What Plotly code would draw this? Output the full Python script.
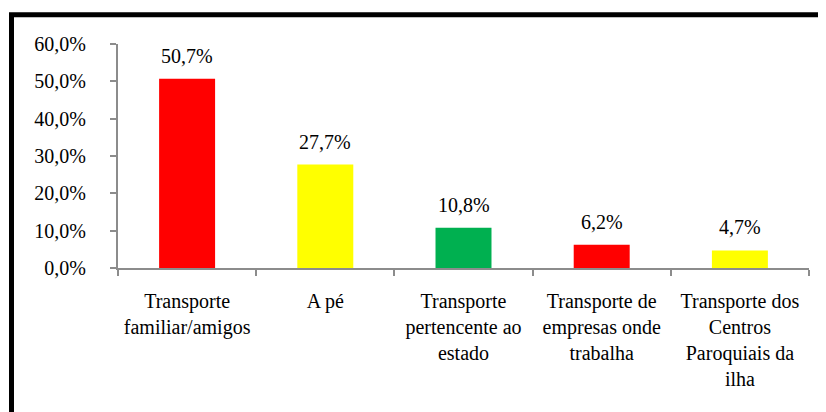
import plotly.graph_objects as go

categories = ["Transporte<br>familiar/amigos", "A pé", "Transporte<br>pertencente ao<br>estado",
              "Transporte de<br>empresas onde<br>trabalha", "Transporte dos<br>Centros<br>Paroquiais da<br>ilha"]
values = [50.7, 27.7, 10.8, 6.2, 4.7]
labels = ["50,7%", "27,7%", "10,8%", "6,2%", "4,7%"]
colors = ["#FF0000", "#FFFF00", "#00B050", "#FF0000", "#FFFF00"]
y_ticks = [0, 10, 20, 30, 40, 50, 60]
y_ticktext = ["0,0%", "10,0%", "20,0%", "30,0%", "40,0%", "50,0%", "60,0%"]

FONT = "'Liberation Serif', Tinos, 'Times New Roman', 'DejaVu Serif', serif"
AXC = "#8C8C8C"

fig = go.Figure(go.Bar(x=categories, y=values, marker=dict(color=colors, line=dict(width=0)),
                       width=0.405, hoverinfo="skip"))

for c, v, t in zip(categories, values, labels):
    fig.add_annotation(x=c, y=v, text=t, showarrow=False, yanchor="bottom", yshift=10,
                       font=dict(family=FONT, size=20, color="black"))

fig.add_shape(type="rect", xref="paper", yref="paper",
              x0=(11.5 - 118) / 691, x1=(840 - 118) / 691,
              y0=(267.7 - 440) / 224, y1=(267.7 - 14.5) / 224,
              line=dict(color="black", width=5), fillcolor="rgba(0,0,0,0)", layer="above")

fig.update_layout(
    width=818, height=404,
    margin=dict(l=110, r=17, t=36, b=144),
    paper_bgcolor="white", plot_bgcolor="white",
    showlegend=False,
    font=dict(family=FONT, size=20, color="black"),
    xaxis=dict(type="category", showline=True, linecolor=AXC, linewidth=2, ticks="outside",
               tickson="boundaries", ticklen=6, tickcolor=AXC, tickwidth=2, showgrid=False,
               tickfont=dict(family=FONT, size=20, color="black"), ticklabelstandoff=14),
    yaxis=dict(range=[0, 60], tickvals=y_ticks, ticktext=y_ticktext, showline=True,
               linecolor=AXC, linewidth=2, ticks="outside", ticklen=6, tickcolor=AXC, tickwidth=2,
               showgrid=False, zeroline=False, ticklabelstandoff=20,
               tickfont=dict(family=FONT, size=20, color="black")),
)

fig.write_html("out.html")
